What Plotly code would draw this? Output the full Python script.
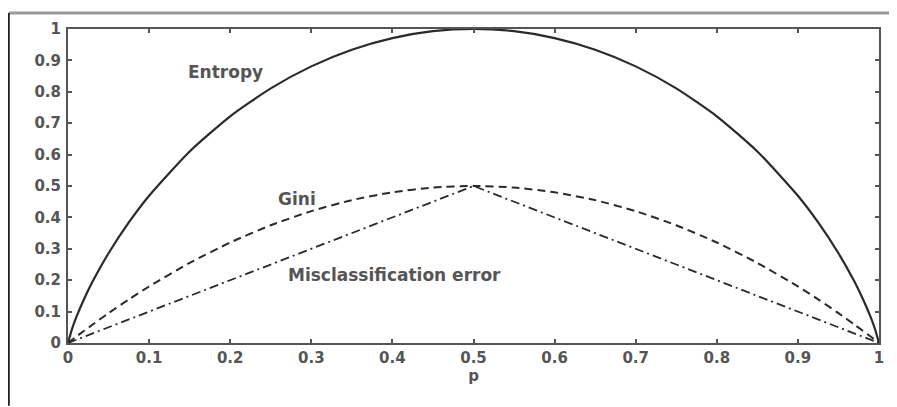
import plotly.graph_objects as go

# p values (denser near the ends where entropy is steep)
p_vals = [0, 0.005, 0.01, 0.02, 0.03, 0.05, 0.075, 0.1, 0.15, 0.2, 0.25, 0.3, 0.35, 0.4, 0.45, 0.5,
          0.55, 0.6, 0.65, 0.7, 0.75, 0.8, 0.85, 0.9, 0.925, 0.95, 0.97, 0.98, 0.99, 0.995, 1]
entropy = [0, 0.045, 0.081, 0.141, 0.194, 0.286, 0.384, 0.469, 0.610, 0.722, 0.811, 0.881, 0.934, 0.971, 0.993, 1.0,
           0.993, 0.971, 0.934, 0.881, 0.811, 0.722, 0.610, 0.469, 0.384, 0.286, 0.194, 0.141, 0.081, 0.045, 0]
gini = [0, 0.010, 0.020, 0.039, 0.058, 0.095, 0.139, 0.180, 0.255, 0.320, 0.375, 0.420, 0.455, 0.480, 0.495, 0.5,
        0.495, 0.480, 0.455, 0.420, 0.375, 0.320, 0.255, 0.180, 0.139, 0.095, 0.058, 0.039, 0.020, 0.010, 0]
mis_p = [0, 0.5, 1]
mis_err = [0, 0.5, 0]

tick_vals = [0, 0.1, 0.2, 0.3, 0.4, 0.5, 0.6, 0.7, 0.8, 0.9, 1]
tick_text = ["0", "0.1", "0.2", "0.3", "0.4", "0.5", "0.6", "0.7", "0.8", "0.9", "1"]

labels = ["Entropy", "Gini", "Misclassification error"]
label_x = [0.194, 0.282, 0.403]
label_y = [0.864, 0.459, 0.215]

line_col = "#2a2a2a"
text_col = "#555555"
font_fam = "DejaVu Sans"

fig = go.Figure()
fig.add_trace(go.Scatter(x=p_vals, y=entropy, mode="lines",
                         line=dict(color=line_col, width=2.2, shape="spline", smoothing=0.6)))
fig.add_trace(go.Scatter(x=p_vals, y=gini, mode="lines",
                         line=dict(color=line_col, width=2, dash="8px,5px", shape="spline", smoothing=0.6)))
fig.add_trace(go.Scatter(x=mis_p, y=mis_err, mode="lines",
                         line=dict(color=line_col, width=1.8, dash="9px,4px,2px,4px")))

for t, x, y in zip(labels, label_x, label_y):
    fig.add_annotation(x=x, y=y, xref="x", yref="y", text=t, showarrow=False,
                       font=dict(family=font_fam, size=17, color=text_col, weight="bold"))

axis_common = dict(range=[0, 1], tickvals=tick_vals, ticktext=tick_text,
                   showline=True, linecolor="#555555", linewidth=2, mirror="allticks",
                   ticks="inside", ticklen=4, tickwidth=1.5, tickcolor="#555555",
                   showgrid=False, zeroline=False,
                   tickfont=dict(family=font_fam, size=15, color=text_col, weight="bold"))

fig.update_xaxes(**axis_common, title=dict(text="p", standoff=4,
                 font=dict(family=font_fam, size=15, color=text_col, weight="bold")))
fig.update_yaxes(**axis_common, ticklabelstandoff=2)

# outer figure frame
fig.add_shape(type="line", xref="paper", yref="paper", x0=-0.073, x1=1.03, y0=1.0506, y1=1.0506,
              line=dict(color="#999999", width=3))
fig.add_shape(type="line", xref="paper", yref="paper", x0=-0.073, x1=-0.073, y0=1.0506, y1=-0.2,
              line=dict(color="#222222", width=2))

fig.update_layout(width=889, height=399, margin=dict(l=60, r=18, t=19, b=64),
                  paper_bgcolor="white", plot_bgcolor="white", showlegend=False)

fig.write_html("out.html")
